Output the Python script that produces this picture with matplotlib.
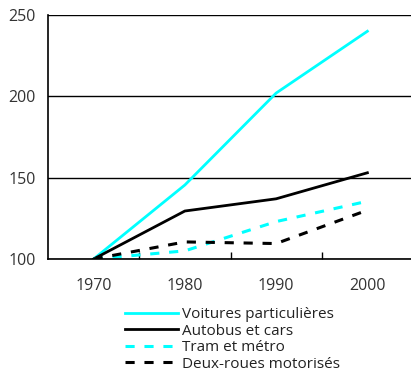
import matplotlib
matplotlib.use("Agg")
import matplotlib.pyplot as plt

years = ["1970", "1980", "1990", "2000"]
voitures = [100, 145.5, 202, 240]
autobus = [100, 129.5, 137, 153]
tram = [100, 105, 123, 135.5]
deux_roues = [100, 110.5, 109.5, 130]
labels = ["Voitures particulières", "Autobus et cars", "Tram et métro", "Deux-roues motorisés"]
yticks = [100, 150, 200, 250]

plt.rcParams['font.family'] = ['Open Sans', 'DejaVu Sans']
fig = plt.figure(figsize=(4.11, 3.76), dpi=100)
ax = fig.add_axes([48/411, 1-259/376, (413-48)/411, (259-15)/376])

x = range(len(years))
ax.plot(x, voitures, color='#00FFFF', lw=2, label=labels[0])
ax.plot(x, autobus, color='black', lw=2, label=labels[1])
ax.plot(x, tram, color='#00FFFF', lw=2.2, dashes=(3, 3.2), label=labels[2])
ax.plot(x, deux_roues, color='black', lw=2.2, dashes=(3, 3.2), label=labels[3])

ax.set_xlim(-0.5, len(years)-0.5)
ax.set_ylim(100, 250)
ax.set_yticks(yticks)
ax.set_xticks(list(x))
ax.set_xticklabels(years)
ax.set_xticks([i + 0.5 for i in range(len(years)-1)], minor=True)
ax.tick_params(axis='x', which='major', length=0, pad=14, labelsize=11.5)
ax.tick_params(axis='x', which='minor', direction='in', length=5, width=1, color='black')
ax.tick_params(axis='y', length=0, pad=9, labelsize=11.5)
for lab in ax.get_xticklabels() + ax.get_yticklabels():
    lab.set_color('#333333')
ax.grid(axis='y', color='black', lw=1)
ax.set_axisbelow(True)
for s in ['top', 'right']:
    ax.spines[s].set_visible(False)
ax.spines['left'].set_linewidth(1.2)
ax.spines['bottom'].set_linewidth(1.2)

leg = fig.legend(loc='upper left', bbox_to_anchor=(125/411, 1-307/376), frameon=False,
                 fontsize=11, handlelength=3.5, handletextpad=0.25, labelspacing=0.1,
                 borderaxespad=0, borderpad=0)
for t in leg.get_texts():
    t.set_color('#222222')
fig.savefig("out.png", dpi=100)
